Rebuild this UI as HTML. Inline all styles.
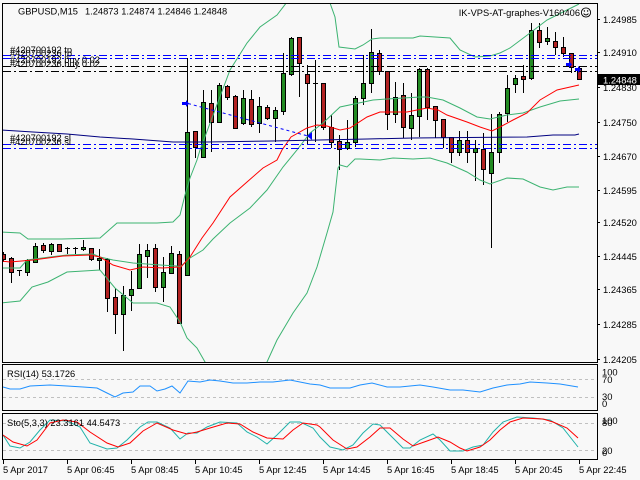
<!DOCTYPE html>
<html><head><meta charset="utf-8"><style>
html,body{margin:0;padding:0;background:#f8f8f8;}
svg{display:block;font-family:"Liberation Sans",Arial,sans-serif;}
</style></head><body>
<svg width="640" height="480" viewBox="0 0 640 480" xmlns="http://www.w3.org/2000/svg">
<defs>
<clipPath id="main"><rect x="3" y="4" width="594" height="358"/></clipPath>
<clipPath id="rsi"><rect x="3" y="365" width="594" height="45"/></clipPath>
<clipPath id="sto"><rect x="3" y="414" width="594" height="45"/></clipPath>
</defs>
<rect width="640" height="480" fill="#f8f8f8"/>

<!-- panel borders -->
<g fill="none" stroke="#000" stroke-width="1" shape-rendering="crispEdges">
<rect x="2.5" y="3.5" width="595" height="359"/>
<rect x="2.5" y="364.5" width="595" height="46"/>
<rect x="2.5" y="413.5" width="595" height="46"/>
</g>

<g clip-path="url(#main)">
<!-- wicks -->
<path shape-rendering="crispEdges" stroke="#000" stroke-width="1" fill="none" d="M3.5 252V262M11.5 257V283M19.5 270V276M27.5 259V276M35.5 243V262M43.5 243V253M51.5 243V255M59.5 244V252M67.5 247V254M75.5 247V254M83.5 240V251M91.5 248V261M99.5 249V270M107.5 258V312M115.5 288V334M123.5 286V351M131.5 271V311M139.5 244V288M147.5 244V278M155.5 244V292M163.5 257V302M171.5 246V273M179.5 251V323M187.5 58V275M195.5 131V158M203.5 90V158M211.5 90V152M219.5 83V123M227.5 85V100M235.5 95V129M243.5 90V125M251.5 90V127M259.5 97V133M267.5 105V120M275.5 107V142M283.5 53V115M291.5 37V76M299.5 37V97M307.5 65V144M315.5 60V142M323.5 83V130M331.5 115V148M339.5 135V170M347.5 120V150M355.5 96V147M363.5 55V105M371.5 29V93M379.5 50V75M387.5 71V130M395.5 82V123M403.5 83V138M411.5 93V140M419.5 68V137M427.5 68V120M435.5 106V138M443.5 119V148M451.5 137V163M459.5 131V156M467.5 131V163M475.5 140V181M483.5 133V185M491.5 114V248M499.5 112V163M507.5 75V122M515.5 75V93M523.5 65V93M531.5 23V80M539.5 23V48M547.5 27V45M555.5 32V55M563.5 37V57M571.5 53V73M579.5 67V79M17 270.5H22M65 248.5H70M73 248.5H78M313 83.5H318"/>
<!-- green bodies -->
<g fill="#228b22" stroke="#000" stroke-width="1" shape-rendering="crispEdges">
<rect x="25.5" y="260.5" width="4" height="12"/>
<rect x="33.5" y="246.5" width="4" height="16"/>
<rect x="49.5" y="244.5" width="4" height="7"/>
<rect x="81.5" y="247.5" width="4" height="2"/>
<rect x="97.5" y="258.5" width="4" height="2"/>
<rect x="121.5" y="295.5" width="4" height="19"/>
<rect x="129.5" y="289.5" width="4" height="6"/>
<rect x="137.5" y="254.5" width="4" height="34"/>
<rect x="145.5" y="250.5" width="4" height="6"/>
<rect x="161.5" y="272.5" width="4" height="15"/>
<rect x="169.5" y="253.5" width="4" height="20"/>
<rect x="185.5" y="132.5" width="4" height="143"/>
<rect x="201.5" y="102.5" width="4" height="55"/>
<rect x="217.5" y="85.5" width="4" height="37"/>
<rect x="241.5" y="98.5" width="4" height="25"/>
<rect x="257.5" y="106.5" width="4" height="17"/>
<rect x="273.5" y="110.5" width="4" height="8"/>
<rect x="281.5" y="73.5" width="4" height="38"/>
<rect x="289.5" y="38.5" width="4" height="36"/>
<rect x="345.5" y="142.5" width="4" height="6"/>
<rect x="353.5" y="98.5" width="4" height="44"/>
<rect x="361.5" y="83.5" width="4" height="15"/>
<rect x="369.5" y="52.5" width="4" height="31"/>
<rect x="393.5" y="97.5" width="4" height="17"/>
<rect x="409.5" y="115.5" width="4" height="13"/>
<rect x="417.5" y="69.5" width="4" height="47"/>
<rect x="457.5" y="140.5" width="4" height="12"/>
<rect x="473.5" y="148.5" width="4" height="4"/>
<rect x="489.5" y="152.5" width="4" height="21"/>
<rect x="497.5" y="114.5" width="4" height="38"/>
<rect x="505.5" y="88.5" width="4" height="25"/>
<rect x="513.5" y="78.5" width="4" height="6"/>
<rect x="529.5" y="30.5" width="4" height="48"/>
<rect x="545.5" y="38.5" width="4" height="3"/>
</g>
<!-- red bodies -->
<g fill="#b22222" stroke="#000" stroke-width="1" shape-rendering="crispEdges">
<rect x="1.5" y="254.5" width="4" height="5"/>
<rect x="9.5" y="258.5" width="4" height="14"/>
<rect x="41.5" y="245.5" width="4" height="5"/>
<rect x="57.5" y="244.5" width="4" height="7"/>
<rect x="89.5" y="248.5" width="4" height="11"/>
<rect x="105.5" y="259.5" width="4" height="39"/>
<rect x="113.5" y="297.5" width="4" height="17"/>
<rect x="153.5" y="248.5" width="4" height="39"/>
<rect x="177.5" y="254.5" width="4" height="69"/>
<rect x="193.5" y="131.5" width="4" height="16"/>
<rect x="209.5" y="103.5" width="4" height="19"/>
<rect x="225.5" y="86.5" width="4" height="11"/>
<rect x="233.5" y="96.5" width="4" height="32"/>
<rect x="249.5" y="99.5" width="4" height="25"/>
<rect x="265.5" y="107.5" width="4" height="11"/>
<rect x="297.5" y="37.5" width="4" height="26"/>
<rect x="305.5" y="74.5" width="4" height="9"/>
<rect x="321.5" y="83.5" width="4" height="44"/>
<rect x="329.5" y="127.5" width="4" height="15"/>
<rect x="337.5" y="141.5" width="4" height="8"/>
<rect x="377.5" y="53.5" width="4" height="18"/>
<rect x="385.5" y="71.5" width="4" height="43"/>
<rect x="401.5" y="95.5" width="4" height="32"/>
<rect x="425.5" y="69.5" width="4" height="38"/>
<rect x="433.5" y="106.5" width="4" height="14"/>
<rect x="441.5" y="119.5" width="4" height="18"/>
<rect x="449.5" y="137.5" width="4" height="15"/>
<rect x="465.5" y="140.5" width="4" height="12"/>
<rect x="481.5" y="149.5" width="4" height="20"/>
<rect x="521.5" y="76.5" width="4" height="3"/>
<rect x="537.5" y="30.5" width="4" height="12"/>
<rect x="553.5" y="41.5" width="4" height="6"/>
<rect x="561.5" y="47.5" width="4" height="6"/>
<rect x="569.5" y="53.5" width="4" height="14"/>
<rect x="577.5" y="68.5" width="4" height="11"/>
</g>

<!-- indicators -->
<g fill="none" stroke-width="1">
<polyline stroke="#3cb371" points="0,232 20,233 28,239 62,239 100,238 117,223 157,223 173,222 180,215 185,195 190,178 197,160 200,150 230,70 247,43 260,27 277,15 287,2 295,-15 325,-15 330,3 335,17 339,47 347,48 355,49 363,45 372,39 380,38 413,38 420,36 450,38 460,50 475,57 490,56 500,53 510,48 530,33 547,20 567,10 579,4"/>
<polyline stroke="#3cb371" points="0,268 20,268 27,260 50,257 67,255 93,254 100,257 113,260 133,263 160,265 177,266 180,267 190,258 203,250 213,239 230,223 250,208 267,190 283,167 297,150 310,133 323,123 340,107 373,100 387,99 420,97 427,97 443,100 460,108 477,117 490,119 507,115 523,113 540,107 560,101 579,99"/>
<polyline stroke="#3cb371" points="0,303 20,301 32,287 48,282 67,272 100,270 115,288 133,303 157,303 170,307 180,322 187,338 197,348 205,362 215,385 255,385 267,362 277,340 293,313 307,293 317,267 327,233 333,212 338,168 340,165 347,167 355,159 360,159 380,160 393,158 413,159 430,158 447,163 467,172 480,180 490,184 507,178 523,179 540,187 553,190 567,187 579,187"/>
<polyline stroke="#ff0000" points="0,261 10,262 33,260 63,256 90,255 100,257 113,265 130,270 143,267 163,268 178,267 180,268 190,257 202,238 213,223 230,197 247,182 263,168 277,160 282,150 291,137 307,128 317,125 327,126 340,130 350,128 367,117 380,112 407,112 427,108 438,110 447,115 467,122 480,127 492,131 500,127 513,120 527,113 540,100 557,90 579,85"/>
<polyline stroke="#000080" points="0,130 33,132 67,134 100,137 133,139 173,142 207,142 272,141 367,139 413,138 527,137 553,135 575,135 579,134"/>
</g>

<!-- order lines -->
<g fill="none" stroke-width="1" shape-rendering="crispEdges">
<line x1="3" y1="55.5" x2="597" y2="55.5" stroke="#0000ff" stroke-dasharray="8,3,2,3"/>
<line x1="3" y1="58.5" x2="597" y2="58.5" stroke="#0000ff" stroke-dasharray="8,3,2,3"/>
<line x1="3" y1="66.5" x2="597" y2="66.5" stroke="#000" stroke-dasharray="8,3,2,3"/>
<line x1="3" y1="71.5" x2="597" y2="71.5" stroke="#000" stroke-dasharray="8,3,2,3"/>
<line x1="3" y1="144.5" x2="597" y2="144.5" stroke="#0000ff" stroke-dasharray="8,3,2,3"/>
<line x1="3" y1="148.5" x2="597" y2="148.5" stroke="#0000ff" stroke-dasharray="8,3,2,3"/>
</g>
<line x1="188" y1="103.5" x2="308" y2="136" stroke="#0000ff" stroke-width="1" stroke-dasharray="3,3"/>
<g fill="#0000ff">
<polygon points="182,102 186,102 186,100 189,103.5 186,107 186,105 182,105"/>
<polygon points="307,136 312,132 312,140"/>
<polygon points="566,63 569,63 569,61 572,64.5 569,68 569,66 566,66"/>
<polygon points="575,68 578,68 578,66 581,69.5 578,73 578,71 575,71"/>
</g>

<!-- order labels -->
<g font-size="9.3" fill="#000">
<text x="10" y="53">#420700192 tp</text>
<text x="10" y="56.5">#420700236 tp</text>
<text x="10" y="63">#420700192 buy 0.02</text>
<text x="10" y="67">#420700236 buy 0.02</text>
<text x="10" y="141">#420700192 sl</text>
<text x="10" y="145">#420700236 sl</text>
</g>
</g>

<!-- title -->
<g font-size="9.3" fill="#000">
<text x="18" y="14.5">GBPUSD,M15</text>
<text x="85" y="14.5">1.24873 1.24874 1.24846 1.24848</text>
<text x="580" y="16" text-anchor="end">IK-VPS-AT-graphes-V160406</text>
</g>
<g fill="none" stroke="#000" stroke-width="0.9">
<circle cx="586" cy="12.5" r="4.6"/>
<path d="M583.6 13.6 Q586 16.4 588.4 13.6"/>
</g>
<circle cx="584.4" cy="11" r="0.7" fill="#000"/>
<circle cx="587.6" cy="11" r="0.7" fill="#000"/>

<!-- price axis -->
<g stroke="#000" shape-rendering="crispEdges">
<path d="M597 19.5H600M597 52.5H600M597 87.5H600M597 122.5H600M597 156.5H600M597 190.5H600M597 222.5H600M597 256.5H600M597 289.5H600M597 324.5H600M597 359.5H600"/>
</g>
<g font-size="9.4" fill="#000">
<text x="603" y="23">1.24985</text>
<text x="603" y="56">1.24910</text>
<text x="603" y="91">1.24830</text>
<text x="603" y="126">1.24750</text>
<text x="603" y="160">1.24670</text>
<text x="603" y="194">1.24595</text>
<text x="603" y="226">1.24520</text>
<text x="603" y="260">1.24445</text>
<text x="603" y="293">1.24365</text>
<text x="603" y="328">1.24285</text>
<text x="603" y="363">1.24205</text>
</g>
<rect x="598" y="74" width="42" height="11" fill="#000"/>
<text x="603" y="83.5" font-size="9.4" fill="#fff">1.24848</text>

<!-- RSI panel -->
<g shape-rendering="crispEdges" stroke="#c0c0c0" stroke-dasharray="3,3">
<line x1="3" y1="379.5" x2="597" y2="379.5"/>
<line x1="3" y1="397.5" x2="597" y2="397.5"/>
<line x1="3" y1="423.5" x2="597" y2="423.5"/>
<line x1="3" y1="450.5" x2="597" y2="450.5"/>
</g>
<g clip-path="url(#rsi)">
<polyline fill="none" stroke="#1e90ff" stroke-width="1" points="3,387 10,389 20,389 30,386 50,385 67,386 83,387 97,388 107,393 115,397 123,393 133,392 140,386 150,386 157,391 165,389 172,386 180,393 188,381 200,382 210,380 220,381 233,383 247,383 260,382 273,382 290,380 300,382 310,384 320,385 330,388 350,388 360,385 372,383 387,387 400,387 420,385 433,387 450,390 463,390 480,392 493,388 507,385 520,384 530,382 547,383 560,384 578,387"/>
</g>
<text x="7" y="377" font-size="9.3" fill="#000">RSI(14) 53.1726</text>
<g font-size="9.4" fill="#000">
<text x="602" y="375.5">100</text>
<text x="602" y="383">70</text>
<text x="602" y="400">30</text>
<text x="602" y="407">0</text>
</g>

<!-- Stochastic panel -->
<g clip-path="url(#sto)" fill="none" stroke-width="1">
<polyline stroke="#20b2aa" points="3,435 10,446 20,448 30,442 40,430 50,420 67,421 80,427 90,443 107,449 117,448 127,440 140,427 148,422 157,422 170,428 180,439 188,433 197,433 207,427 220,422 237,423 247,432 257,437 267,444 277,435 290,422 300,422 313,428 320,437 330,447 343,450 353,445 363,433 373,424 380,425 390,435 403,448 410,448 420,440 433,434 440,440 450,451 463,451 473,447 483,445 493,432 503,422 517,417 533,418 550,420 563,428 578,447"/>
<polyline stroke="#ff0000" points="3,435 13,442 27,446 37,440 50,423 63,420 77,422 90,432 107,443 118,447 130,443 143,431 157,423 173,430 187,434 197,432 210,428 227,423 240,424 253,432 267,438 283,439 293,430 303,423 317,425 320,427 333,440 347,449 357,447 370,437 380,428 390,428 403,439 413,446 427,441 438,437 450,442 460,448 467,451 480,447 490,440 500,430 510,422 523,418 543,419 553,422 567,428 578,438"/>
</g>
<text x="7" y="426" font-size="9.3" fill="#000">Sto(5,3,3) 23.3161 44.5473</text>
<g font-size="9.4" fill="#000">
<text x="602" y="424">100</text>
<text x="602" y="426">80</text>
<text x="602" y="454">20</text>
<text x="602" y="456">0</text>
</g>

<!-- time axis -->
<g stroke="#000" shape-rendering="crispEdges">
<path d="M3.5 460V464M67.5 460V464M131.5 460V464M195.5 460V464M259.5 460V464M323.5 460V464M387.5 460V464M451.5 460V464M515.5 460V464M579.5 460V464"/>
</g>
<g font-size="9.3" fill="#000">
<text x="3" y="473">5 Apr 2017</text>
<text x="67" y="473">5 Apr 06:45</text>
<text x="131" y="473">5 Apr 08:45</text>
<text x="195" y="473">5 Apr 10:45</text>
<text x="259" y="473">5 Apr 12:45</text>
<text x="323" y="473">5 Apr 14:45</text>
<text x="387" y="473">5 Apr 16:45</text>
<text x="451" y="473">5 Apr 18:45</text>
<text x="515" y="473">5 Apr 20:45</text>
<text x="579" y="473">5 Apr 22:45</text>
</g>
</svg>
</body></html>
